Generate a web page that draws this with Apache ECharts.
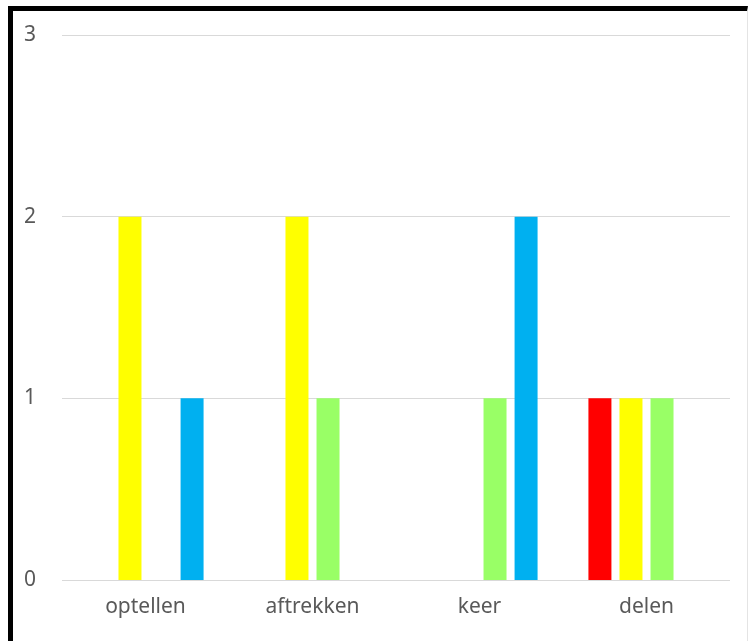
<!DOCTYPE html>
<html>
<head>
<meta charset="utf-8">
<script src="https://cdn.jsdelivr.net/npm/echarts@6/dist/echarts.min.js"></script>
<style>
html,body{margin:0;padding:0;background:#fff;}
#chart{position:absolute;left:0;top:0;width:750px;height:641px;}
#frame{position:absolute;left:8px;top:6px;width:734px;height:631px;border-left:5px solid #000;border-top:5px solid #000;border-right:1px solid #e4e4e4;border-bottom:2px solid #999;pointer-events:none;}
</style>
</head>
<body>
<div id="chart"></div>
<div id="frame"></div>
<script>
const categories = ['optellen', 'aftrekken', 'keer', 'delen'];
const redValues = [0, 0, 0, 1];
const yellowValues = [2, 2, 0, 1];
const greenValues = [0, 1, 1, 1];
const blueValues = [1, 0, 2, 0];
const yTicks = [0, 1, 2, 3];

const chart = echarts.init(document.getElementById('chart'));
const mk = (data, color) => ({
  type: 'bar', data: data, barWidth: 23, barGap: '35%',
  itemStyle: { color: color }
});
chart.setOption({
  animation: false,
  grid: { left: 62, right: 20, top: 35, bottom: 61, containLabel: false },
  xAxis: {
    type: 'category', data: categories,
    axisLine: { show: false }, axisTick: { show: false },
    axisLabel: { color: '#595959', fontSize: 21, fontFamily: 'Noto Sans', margin: 17 }
  },
  yAxis: {
    type: 'value', min: yTicks[0], max: yTicks[yTicks.length - 1], interval: 1,
    axisLine: { show: false }, axisTick: { show: false },
    axisLabel: { color: '#595959', fontSize: 21, fontFamily: 'Noto Sans', margin: 26 },
    splitLine: { lineStyle: { color: '#d9d9d9', width: 1 } }
  },
  series: [
    mk(redValues, '#FF0000'),
    mk(yellowValues, '#FFFF00'),
    mk(greenValues, '#99FF66'),
    mk(blueValues, '#00B0F0')
  ]
});
</script>
</body>
</html>
